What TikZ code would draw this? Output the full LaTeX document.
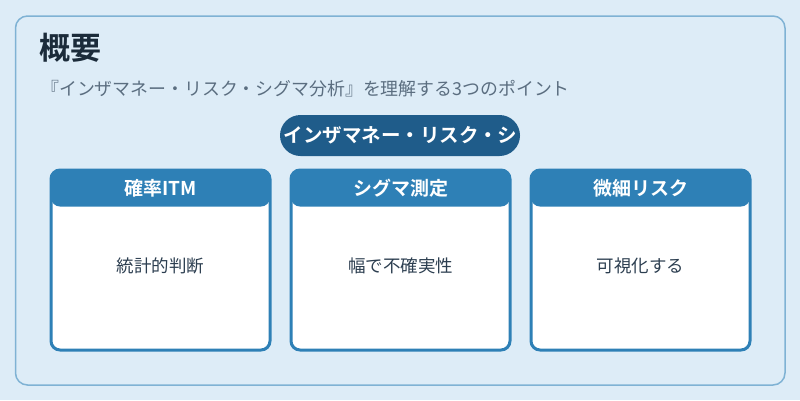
\documentclass[tikz,border=0pt]{standalone}
\usepackage{fontspec}
\setmainfont{Noto Sans CJK JP}[BoldFont={Noto Sans CJK JP Bold}]
\definecolor{bgc}{HTML}{DDECF7}
\definecolor{outerc}{HTML}{7FB2D4}
\definecolor{pillc}{HTML}{1F5C8A}
\definecolor{cardc}{HTML}{2E80B6}
\definecolor{titlec}{HTML}{1B2B3A}
\definecolor{subc}{HTML}{5B6E80}
\definecolor{bodyc}{HTML}{2C3E50}
\tikzset{
  outerbox/.style={draw=outerc, line width=1.5pt, rounded corners=12pt, fill=bgc},
  pillbox/.style={fill=pillc, rounded corners=20.5pt},
  cardbox/.style={draw=cardc, line width=3pt, rounded corners=9pt, fill=white, minimum width=219pt, minimum height=180pt, inner sep=0pt,
    path picture={\fill[cardc] (path picture bounding box.north west) rectangle ([yshift=-36.5pt]path picture bounding box.north east);}},
  headtext/.style={text=white, font=\bfseries\fontsize{19}{22}\selectfont, inner sep=0pt},
  bodytext/.style={text=bodyc, font=\fontsize{17.5}{20}\selectfont, inner sep=0pt},
}
\begin{document}
\begin{tikzpicture}[x=1pt,y=-1pt]
\useasboundingbox (0,0) rectangle (800,400);
\fill[bgc] (0,0) rectangle (800,400);
\draw[outerbox] (15.5,16) rectangle (785,385);
\node[anchor=west, text=titlec, font=\bfseries\fontsize{31}{34}\selectfont, inner sep=0pt] (title) at (39.5,47.5) {概要};
\node[anchor=west, text=subc, font=\fontsize{17.9}{20}\selectfont, inner sep=0pt] (sub) at (41,89) {『インザマネー・リスク・シグマ分析』を理解する3つのポイント};
\fill[pillbox] (280,115) rectangle (520,156);
\node[text=white, font=\bfseries\fontsize{19.5}{22}\selectfont, inner sep=0pt] (pill) at (400.5,135.5) {インザマネー・リスク・シ};
\foreach \cx/\h/\b/\n in {160.5/確率ITM/統計的判断/a, 400.5/シグマ測定/幅で不確実性/b, 640.5/微細リスク/可視化する/c}{
  \node[cardbox] (card\n) at (\cx,260) {};
  \node[headtext] (head\n) at (\cx,188.5) {\h};
  \node[bodytext] (body\n) at (\cx,266) {\b};
}
\end{tikzpicture}
\end{document}
